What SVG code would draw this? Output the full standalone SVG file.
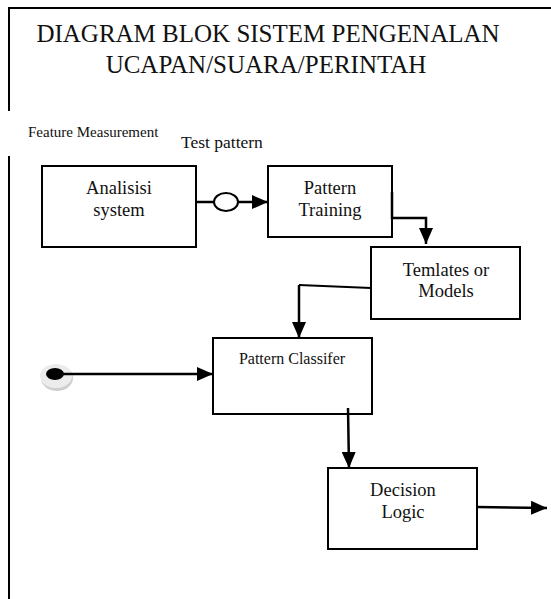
<svg xmlns="http://www.w3.org/2000/svg" width="551" height="599" viewBox="0 0 551 599">
<defs>
<style>
text{font-family:"Liberation Serif","Times New Roman",serif;fill:#111}
.box{fill:#fff;stroke:#000;stroke-width:2}
.frame{stroke:#000;stroke-width:2;fill:none}
.c{stroke:#000;stroke-width:2.5;fill:none}
.t{font-size:18.5px;text-anchor:middle}
</style>
<marker id="ah" markerWidth="16" markerHeight="14" refX="16" refY="7" orient="auto" markerUnits="userSpaceOnUse">
<path d="M0,0 L16,7 L0,14 Z" fill="#000"/>
</marker>
</defs>
<rect width="551" height="599" fill="#fff"/>
<g id="frame">
<path class="frame" d="M9,8 H551 M9,7 V111 M9,156 V599"/>
</g>
<g id="title">
<text x="268" y="42" font-size="25" text-anchor="middle">DIAGRAM BLOK SISTEM PENGENALAN</text>
<text x="266" y="73" font-size="25" text-anchor="middle">UCAPAN/SUARA/PERINTAH</text>
</g>
<g id="labels">
<text x="28" y="137" font-size="15">Feature Measurement</text>
<text x="181" y="148" font-size="17.5">Test pattern</text>
</g>
<g id="analisisi">
<rect class="box" x="42" y="166" width="154" height="81"/>
<text class="t" x="119" y="194">Analisisi</text>
<text class="t" x="119" y="216">system</text>
</g>
<g id="training">
<rect class="box" x="268" y="166" width="124" height="71"/>
<text class="t" x="330" y="194">Pattern</text>
<text class="t" x="330" y="216">Training</text>
</g>
<g id="templates">
<rect class="box" x="371" y="247" width="149" height="72"/>
<text class="t" x="446" y="276">Temlates or</text>
<text class="t" x="446" y="297">Models</text>
</g>
<g id="classifier">
<rect class="box" x="213" y="338" width="159" height="76"/>
<text x="292" y="364" font-size="16" text-anchor="middle">Pattern Classifer</text>
</g>
<g id="decision">
<rect class="box" x="328" y="468" width="149" height="81"/>
<text class="t" x="403" y="496">Decision</text>
<text class="t" x="403" y="518">Logic</text>
</g>
<g id="source">
<ellipse cx="57" cy="378" rx="16" ry="13" fill="#cfcfcf"/>
<ellipse cx="56" cy="376" rx="16" ry="12" fill="#ececec"/>
<ellipse cx="55" cy="374" rx="9" ry="6" fill="#000"/>
</g>
<g id="connectors">
<path class="c" d="M196,202 H214"/>
<ellipse cx="226" cy="202" rx="12" ry="9" fill="#fff" stroke="#000" stroke-width="2"/>
<path class="c" d="M238,202 H268" marker-end="url(#ah)"/>
<path class="c" d="M392,192 V218 H426 V244" marker-end="url(#ah)"/>
<path d="M371,288 L299,285" stroke="#000" stroke-width="2" fill="none"/>
<path class="c" d="M299,285 V338" marker-end="url(#ah)"/>
<path class="c" d="M63,374 H213" marker-end="url(#ah)"/>
<path class="c" d="M348,408 L349,468" marker-end="url(#ah)"/>
<path class="c" d="M477,507 L547,508" marker-end="url(#ah)"/>
</g>
</svg>
